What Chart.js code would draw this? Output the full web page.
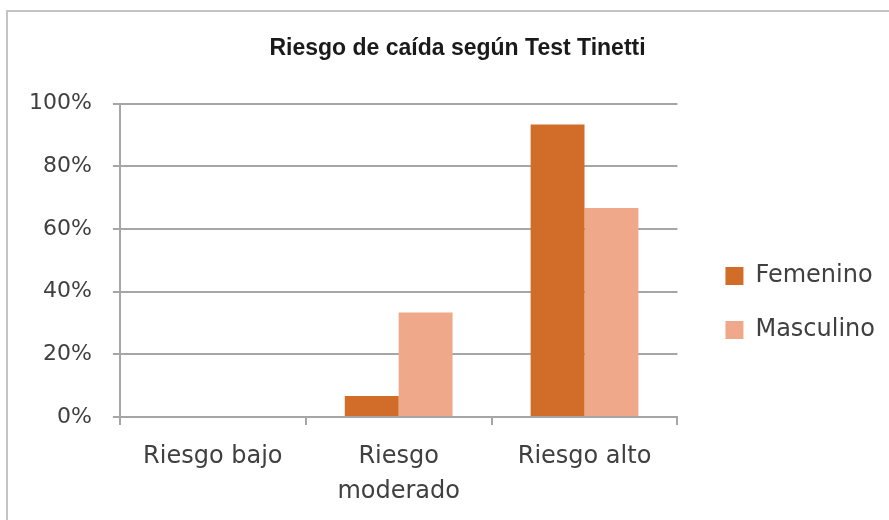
<!DOCTYPE html>
<html lang="es">
<head>
<meta charset="utf-8">
<title>Riesgo de caída según Test Tinetti</title>
<script src="https://cdn.jsdelivr.net/npm/chart.js@4.4.1/dist/chart.umd.min.js"></script>
<style>
  html, body { margin: 0; padding: 0; background: #fff; }
  #wrap { position: relative; width: 889px; height: 520px; overflow: hidden; }
  #frame {
    position: absolute; left: 6px; top: 10px; width: 900px; height: 600px;
    border-top: 2px solid #c4c4c4; border-left: 2px solid #c4c4c4;
  }
  canvas { position: absolute; left: 0; top: 0; }
</style>
</head>
<body>
<div id="wrap">
  <div id="frame"></div>
  <canvas id="chart-tinetti" width="889" height="520"></canvas>
</div>
<script>
  // datos (porcentajes)
  const categories = ['Riesgo bajo', ['Riesgo', 'moderado'], 'Riesgo alto'];
  const femenino = [0, 6.7, 93.3];
  const masculino = [0, 33.3, 66.7];
  const yTicks = [0, 20, 40, 60, 80, 100];

  const orange = '#D26C29';
  const salmon = '#F0A88B';
  const gridGray = '#A6A6A6';
  const textGray = '#404040';

  Chart.defaults.font.family = "'DejaVu Sans', sans-serif";
  Chart.defaults.color = textGray;

  // el título del original está algo desplazado a la derecha
  const titleShift = {
    id: 'titleShift',
    afterLayout(chart) {
      const t = chart.titleBlock;
      if (!t) return;
      t.left += 11;
      t.right += 11;
    },
  };

  new Chart(document.getElementById('chart-tinetti'), {
    type: 'bar',
    data: {
      labels: categories,
      datasets: [
        {
          label: 'Femenino',
          data: femenino,
          backgroundColor: orange,
          categoryPercentage: 0.58,
          barPercentage: 1.0,
        },
        {
          label: 'Masculino',
          data: masculino,
          backgroundColor: salmon,
          categoryPercentage: 0.58,
          barPercentage: 1.0,
        },
      ],
    },
    options: {
      responsive: false,
      animation: false,
      layout: { padding: { left: 8, right: 4, top: 0, bottom: 0 } },
      plugins: {
        title: {
          display: true,
          text: 'Riesgo de caída según Test Tinetti',
          color: '#1a1a1a',
          font: { family: "'Liberation Sans', sans-serif", size: 23, weight: 'bold' },
          padding: { top: 35, bottom: 41 },
        },
        legend: {
          position: 'right',
          maxWidth: 220,
          // título vacío: solo baja los elementos de la leyenda
          title: { display: true, text: ' ', font: { size: 10 }, padding: { top: 0, bottom: 74 } },
          labels: {
            boxWidth: 18,
            boxHeight: 18,
            padding: 30,
            color: textGray,
            font: { size: 24 },
          },
        },
        tooltip: { enabled: false },
      },
      scales: {
        x: {
          grid: { drawOnChartArea: false, drawTicks: true, tickLength: 8, color: gridGray, lineWidth: 2 },
          border: { color: gridGray, width: 2 },
          ticks: { font: { size: 24, lineHeight: 1.46 }, padding: 14, maxRotation: 0, autoSkip: false },
          afterFit: (scale) => { scale.height -= 3; },
        },
        y: {
          min: 0,
          max: 100,
          afterBuildTicks: (axis) => { axis.ticks = yTicks.map((v) => ({ value: v })); },
          grid: { color: gridGray, lineWidth: 2, tickLength: 7 },
          border: { color: gridGray, width: 2 },
          ticks: { font: { size: 22 }, padding: 21, callback: (v) => v + '%' },
        },
        // eje vacío a la derecha: separa el área del gráfico de la leyenda
        gap: {
          type: 'linear',
          position: 'right',
          display: true,
          grid: { display: false },
          border: { display: false },
          ticks: { display: false },
          afterFit: (scale) => { scale.width = 18; },
        },
      },
    },
    plugins: [titleShift],
  });
</script>
</body>
</html>
